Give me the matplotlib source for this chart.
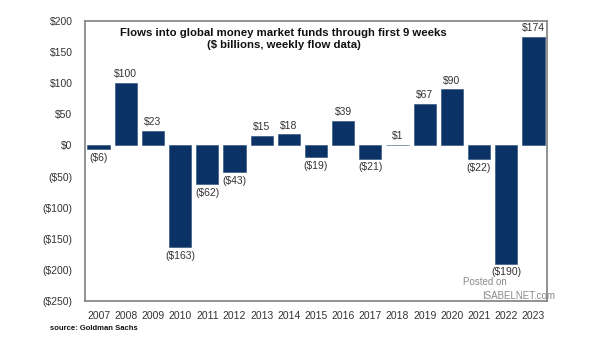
import matplotlib.pyplot as plt
from matplotlib.ticker import FuncFormatter

years = [str(y) for y in range(2007, 2024)]
flows = [-6, 100, 23, -163, -62, -43, 15, 18, -19, 39, -21, 1, 67, 90, -22, -190, 174]

plt.rcParams['font.family'] = ['Liberation Sans', 'DejaVu Sans']

def money(v, pos=None):
    v = int(round(v))
    return f"${v}" if v >= 0 else f"(${-v})"

fig = plt.figure(figsize=(6.05, 3.41), dpi=100)
ax = fig.add_axes([85 / 605, 1 - 301 / 341, 462 / 605, 280 / 341])

x = range(len(years))
ax.bar(x, flows, width=0.82, color="#0b3264", edgecolor="#2a4a78", linewidth=0.4)

for i, v in enumerate(flows):
    if v >= 0:
        ax.text(i, v + 6, money(v), ha="center", va="bottom", fontsize=7.5, color="#333333")
    else:
        ax.text(i, v - 6, money(v), ha="center", va="top", fontsize=7.5, color="#333333")

ax.set_xlim(-0.5, len(years) - 0.5)
ax.set_ylim(-250, 200)
ax.set_yticks(range(-250, 201, 50))
ax.yaxis.set_major_formatter(FuncFormatter(money))
ax.set_xticks(list(x))
ax.set_xticklabels(years)
ax.tick_params(length=0, labelsize=7.5, colors="#333333", pad=7)
ax.tick_params(axis="y", pad=9)

for s in ax.spines.values():
    s.set_color("#7f7f7f")
    s.set_linewidth(1.2)

ax.text(0.43, 0.975, "Flows into global money market funds through first 9 weeks\n($ billions, weekly flow data)",
        transform=ax.transAxes, ha="center", va="top", fontsize=8.2, fontweight="bold",
        linespacing=1.3, color="#111111")

fig.text(50 / 605, 1 - 328 / 341, "source: Goldman Sachs", fontsize=5.5, fontweight="bold",
         ha="left", va="center", color="#111111")

fig.text(463 / 605, 1 - 282 / 341, "Posted on", fontsize=7, color="#8a8a8a", ha="left", va="center")
fig.text(482 / 605, 1 - 296 / 341, "ISABELNET.com", fontsize=7, color="#8a8a8a", ha="left", va="center")

fig.savefig("out.png", dpi=100)
